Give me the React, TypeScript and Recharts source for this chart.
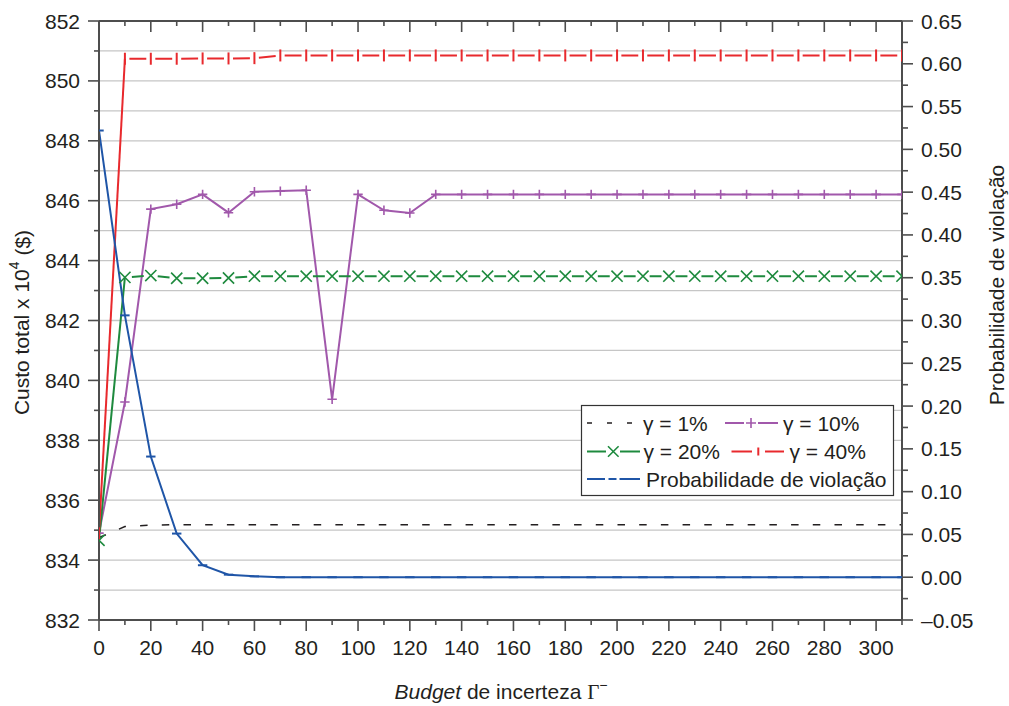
import React from 'react';
import { LineChart, Line, XAxis, YAxis, CartesianGrid } from 'recharts';

// ---------------- data ----------------
const budgets = [0, 10, 20, 30, 40, 50, 60, 70, 80, 90, 100, 110, 120, 130, 140, 150, 160, 170, 180, 190, 200, 210, 220, 230, 240, 250, 260, 270, 280, 290, 300, 310];

const gamma1 = [834.75, 835.12, 835.17, 835.18, 835.18, 835.18, 835.18, 835.18, 835.18, 835.18, 835.18, 835.18, 835.18, 835.18, 835.18, 835.18, 835.18, 835.18, 835.18, 835.18, 835.18, 835.18, 835.18, 835.18, 835.18, 835.18, 835.18, 835.18, 835.18, 835.18, 835.18, 835.18];

const gamma10 = [834.9, 839.28, 845.72, 845.88, 846.21, 845.6, 846.3, 846.32, 846.35, 839.37, 846.21, 845.68, 845.59, 846.21, 846.21, 846.21, 846.21, 846.21, 846.21, 846.21, 846.21, 846.21, 846.21, 846.21, 846.21, 846.21, 846.21, 846.21, 846.21, 846.21, 846.21, 846.21];

const gamma20 = [834.66, 843.44, 843.5, 843.41, 843.41, 843.42, 843.48, 843.48, 843.48, 843.48, 843.48, 843.48, 843.48, 843.48, 843.48, 843.48, 843.48, 843.48, 843.48, 843.48, 843.48, 843.48, 843.48, 843.48, 843.48, 843.48, 843.48, 843.48, 843.48, 843.48, 843.48, 843.48];

const gamma40 = [834.9, 850.74, 850.74, 850.74, 850.75, 850.75, 850.76, 850.85, 850.85, 850.85, 850.85, 850.85, 850.85, 850.85, 850.85, 850.85, 850.85, 850.85, 850.85, 850.85, 850.85, 850.85, 850.85, 850.85, 850.85, 850.85, 850.85, 850.85, 850.85, 850.85, 850.85, 850.85];

const violationProb = [0.522, 0.306, 0.141, 0.051, 0.014, 0.003, 0.001, 0, 0, 0, 0, 0, 0, 0, 0, 0, 0, 0, 0, 0, 0, 0, 0, 0, 0, 0, 0, 0, 0, 0, 0, 0];

const xTickValues = [0, 10, 20, 30, 40, 50, 60, 70, 80, 90, 100, 110, 120, 130, 140, 150, 160, 170, 180, 190, 200, 210, 220, 230, 240, 250, 260, 270, 280, 290, 300, 310];
const leftTickValues = [832, 833, 834, 835, 836, 837, 838, 839, 840, 841, 842, 843, 844, 845, 846, 847, 848, 849, 850, 851, 852];
const rightTickValues = [-0.05, -0.025, 0, 0.025, 0.05, 0.075, 0.1, 0.125, 0.15, 0.175, 0.2, 0.225, 0.25, 0.275, 0.3, 0.325, 0.35, 0.375, 0.4, 0.425, 0.45, 0.475, 0.5, 0.525, 0.55, 0.575, 0.6, 0.625, 0.65];

const seriesNames = ['γ = 1%', 'γ = 10%', 'γ = 20%', 'γ = 40%', 'Probabilidade de violação'];
const leftTitle = 'Custo total x 10';
const rightTitle = 'Probabilidade de violação';

// ---------------- styles ----------------
const FONT = '"Liberation Sans", Arial, Helvetica, sans-serif';
const SERIF = '"Liberation Serif", "Times New Roman", serif';
const TEXT = '#231f20';
const AXIS = '#4d4d4d';
const BLACK = '#231f20';
const PURPLE = '#a158ab';
const GREEN = '#1e8a3e';
const RED = '#e8292d';
const BLUE = '#1f55a7';
const FS = 21;

const rows = budgets.map((b, i) => ({
  budget: b,
  g1: gamma1[i],
  g10: gamma10[i],
  g20: gamma20[i],
  g20Head: i <= 1 ? gamma20[i] : null,
  g20Tail: i >= 1 ? gamma20[i] : null,
  g40: gamma40[i],
  g40Head: i <= 1 ? gamma40[i] : null,
  g40Tail: i >= 1 ? gamma40[i] : null,
  prob: violationProb[i],
}));

// ---------------- ticks ----------------
const LeftTick = (props: any) => {
  const { x, y, payload } = props;
  const v = payload.value;
  const major = Math.round(v) % 2 === 0;
  return (
    <g>
      <line x1={x} x2={x - (major ? 11 : 5)} y1={y} y2={y} stroke={AXIS} strokeWidth={1.6} />
      {major && (
        <text x={x - 19} y={y} dy="0.36em" textAnchor="end" fontFamily={FONT} fontSize={FS} fill={TEXT}>
          {v}
        </text>
      )}
    </g>
  );
};

const RightTick = (props: any) => {
  const { x, y, payload } = props;
  const v = payload.value;
  const k = Math.round(v * 1000);
  const major = k % 50 === 0;
  const label = (v < 0 ? '\u2013' : '') + Math.abs(v).toFixed(2);
  return (
    <g>
      <line x1={x} x2={x + (major ? 11 : 6)} y1={y} y2={y} stroke={AXIS} strokeWidth={1.6} />
      {major && (
        <text x={x + 19} y={y} dy="0.36em" textAnchor="start" fontFamily={FONT} fontSize={FS} fill={TEXT}>
          {label}
        </text>
      )}
    </g>
  );
};

const BottomTick = (props: any) => {
  const { x, y, payload } = props;
  const v = payload.value;
  const major = v % 20 === 0;
  return (
    <g>
      <line x1={x} x2={x} y1={y} y2={y + (major ? 11 : 5)} stroke={AXIS} strokeWidth={1.6} />
      {major && (
        <text x={x} y={y + 35} textAnchor="middle" fontFamily={FONT} fontSize={FS} fill={TEXT}>
          {v}
        </text>
      )}
    </g>
  );
};

const TopTick = (props: any) => {
  const { x, y, payload } = props;
  const v = payload.value;
  const major = v % 20 === 0;
  return <line x1={x} x2={x} y1={y} y2={y + (major ? 11 : 5)} stroke={AXIS} strokeWidth={1.6} />;
};

// ---------------- markers ----------------
const PlusDot = (p: any) => {
  const { cx, cy, index } = p;
  if (cx == null || cy == null) return <g key={`p${index}`} />;
  return <path key={`p${index}`} d={`M${cx - 4.7},${cy}H${cx + 4.7}M${cx},${cy - 4.7}V${cy + 4.7}`} stroke={PURPLE} strokeWidth={1.6} fill="none" />;
};
const CrossDot = (p: any) => {
  const { cx, cy, index } = p;
  if (cx == null || cy == null) return <g key={`c${index}`} />;
  const s = 5.6;
  return <path key={`c${index}`} d={`M${cx - s},${cy - s}L${cx + s},${cy + s}M${cx - s},${cy + s}L${cx + s},${cy - s}`} stroke={GREEN} strokeWidth={1.6} fill="none" />;
};
const VBarDot = (p: any) => {
  const { cx, cy, index } = p;
  if (cx == null || cy == null) return <g key={`v${index}`} />;
  return <path key={`v${index}`} d={`M${cx},${cy - 6}V${cy + 6}`} stroke={RED} strokeWidth={2} fill="none" />;
};
const HBarDot = (p: any) => {
  const { cx, cy, index } = p;
  if (cx == null || cy == null) return <g key={`h${index}`} />;
  return <path key={`h${index}`} d={`M${cx - 4.7},${cy}H${cx + 4.7}`} stroke={BLUE} strokeWidth={2} fill="none" />;
};

// ---------------- legend (overlay) ----------------
const LegendBox = () => {
  const t = (x: number, y: number, s: string) => (
    <text x={x} y={y} dy="0.36em" fontFamily={FONT} fontSize={FS} fill={TEXT}>{s}</text>
  );
  const r1 = 423, r2 = 451.5, r3 = 479;
  return (
    <g>
      <rect x={581.5} y={405.5} width={312} height={90} fill="#ffffff" stroke="#333333" strokeWidth={1.2} />
      {/* row 1 */}
      <line x1={587} x2={633} y1={r1} y2={r1} stroke={BLACK} strokeWidth={1.5} strokeDasharray="5 15" />
      {t(643, r1, seriesNames[0])}
      <line x1={725} x2={744} y1={r1} y2={r1} stroke={PURPLE} strokeWidth={2} />
      <path d={`M${746},${r1}H${756}M${751},${r1 - 5}V${r1 + 5}`} stroke={PURPLE} strokeWidth={1.6} />
      <line x1={758} x2={778} y1={r1} y2={r1} stroke={PURPLE} strokeWidth={2} />
      {t(783, r1, seriesNames[1])}
      {/* row 2 */}
      <line x1={587} x2={606} y1={r2} y2={r2} stroke={GREEN} strokeWidth={2} />
      <path d={`M${608},${r2 - 5.3}L${618.6},${r2 + 5.3}M${608},${r2 + 5.3}L${618.6},${r2 - 5.3}`} stroke={GREEN} strokeWidth={1.6} />
      <line x1={620} x2={640} y1={r2} y2={r2} stroke={GREEN} strokeWidth={2} />
      {t(643.5, r2, seriesNames[2])}
      <line x1={731.5} x2={752} y1={r2} y2={r2} stroke={RED} strokeWidth={2} />
      <path d={`M${758.3},${r2 - 4}V${r2 + 4}`} stroke={RED} strokeWidth={2} />
      <line x1={765} x2={784} y1={r2} y2={r2} stroke={RED} strokeWidth={2} />
      {t(789.5, r2, seriesNames[3])}
      {/* row 3 */}
      <line x1={587} x2={605} y1={r3} y2={r3} stroke={BLUE} strokeWidth={2} />
      <line x1={608.5} x2={616.5} y1={r3} y2={r3} stroke={BLUE} strokeWidth={2} />
      <line x1={619.5} x2={640} y1={r3} y2={r3} stroke={BLUE} strokeWidth={2} />
      {t(646, r3, seriesNames[4])}
    </g>
  );
};

export default function App() {
  return (
    <div style={{ position: 'absolute', left: 0, top: 0, width: 1009, height: 706, background: '#ffffff' }}>
      <LineChart width={1009} height={706} data={rows} margin={{ top: 0, right: 0, bottom: 0, left: 0 }}>
        <CartesianGrid xAxisId="bottom" yAxisId="left" vertical={false} stroke="#c6c6c6" strokeWidth={1.3} />
        <XAxis
          xAxisId="bottom"
          dataKey="budget"
          type="number"
          domain={[0, 310]}
          ticks={xTickValues}
          interval={0}
          tickSize={0}
          tickMargin={0}
          tickLine={false}
          tick={BottomTick}
          height={86}
          allowDataOverflow
          axisLine={{ stroke: AXIS, strokeWidth: 2 }}
        />
        <XAxis
          xAxisId="top"
          orientation="top"
          dataKey="budget"
          type="number"
          domain={[0, 310]}
          ticks={xTickValues}
          interval={0}
          tickSize={0}
          tickMargin={0}
          tickLine={false}
          tick={TopTick}
          height={21}
          axisLine={{ stroke: AXIS, strokeWidth: 2 }}
        />
        <YAxis
          yAxisId="left"
          type="number"
          domain={[832, 852]}
          ticks={leftTickValues}
          interval={0}
          tickSize={0}
          tickMargin={0}
          tickLine={false}
          tick={LeftTick}
          width={99}
          axisLine={{ stroke: AXIS, strokeWidth: 2 }}
        />
        <YAxis
          yAxisId="right"
          orientation="right"
          type="number"
          domain={[-0.05, 0.65]}
          ticks={rightTickValues}
          interval={0}
          tickSize={0}
          tickMargin={0}
          tickLine={false}
          tick={RightTick}
          width={107}
          axisLine={{ stroke: AXIS, strokeWidth: 2 }}
        />

        {/* gamma = 1% */}
        <Line xAxisId="bottom" yAxisId="left" type="linear" dataKey="g1" stroke={BLACK} strokeWidth={1.5} strokeDasharray="7.5 14.2" dot={false} activeDot={false} isAnimationActive={false} />

        {/* gamma = 10% */}
        <Line xAxisId="bottom" yAxisId="left" type="linear" dataKey="g10" stroke={PURPLE} strokeWidth={2} dot={PlusDot} activeDot={false} isAnimationActive={false} />

        {/* gamma = 20% */}
        <Line xAxisId="bottom" yAxisId="left" type="linear" dataKey="g20Head" stroke={GREEN} strokeWidth={2} dot={false} activeDot={false} isAnimationActive={false} />
        <Line xAxisId="bottom" yAxisId="left" type="linear" dataKey="g20Tail" stroke={GREEN} strokeWidth={2} strokeDasharray="0 7 11.9 7" dot={false} activeDot={false} isAnimationActive={false} />
        <Line xAxisId="bottom" yAxisId="left" type="linear" dataKey="g20" stroke="none" strokeWidth={0} dot={CrossDot} activeDot={false} isAnimationActive={false} />

        {/* gamma = 40% */}
        <Line xAxisId="bottom" yAxisId="left" type="linear" dataKey="g40Head" stroke={RED} strokeWidth={2} dot={false} activeDot={false} isAnimationActive={false} />
        <Line xAxisId="bottom" yAxisId="left" type="linear" dataKey="g40Tail" stroke={RED} strokeWidth={2} strokeDasharray="0 4.5 16.9 4.5" dot={false} activeDot={false} isAnimationActive={false} />
        <Line xAxisId="bottom" yAxisId="left" type="linear" dataKey="g40" stroke="none" strokeWidth={0} dot={VBarDot} activeDot={false} isAnimationActive={false} />

        {/* probability */}
        <Line xAxisId="bottom" yAxisId="right" type="linear" dataKey="prob" stroke={BLUE} strokeWidth={2} dot={HBarDot} activeDot={false} isAnimationActive={false} />
      </LineChart>

      <svg width={1009} height={706} style={{ position: 'absolute', left: 0, top: 0, pointerEvents: 'none' }}>
        <text transform="translate(21.5,322.5) rotate(-90)" textAnchor="middle" dominantBaseline="central" fontFamily={FONT} fontSize={FS} fill={TEXT}>
          {leftTitle}
          <tspan fontSize={14} dy={-8}>4</tspan>
          <tspan dy={8}>{' ($)'}</tspan>
        </text>
        <text transform="translate(996,285) rotate(-90)" textAnchor="middle" dominantBaseline="central" fontFamily={FONT} fontSize={FS} fill={TEXT}>
          {rightTitle}
        </text>
        <text x={501} y={699} textAnchor="middle" fontFamily={FONT} fontSize={FS} fill={TEXT}>
          <tspan fontStyle="italic">Budget</tspan>
          <tspan>{' de incerteza '}</tspan>
          <tspan fontFamily={SERIF}>Γ</tspan>
          <tspan fontSize={14} dy={-9}>−</tspan>
        </text>
        <LegendBox />
      </svg>
    </div>
  );
}
